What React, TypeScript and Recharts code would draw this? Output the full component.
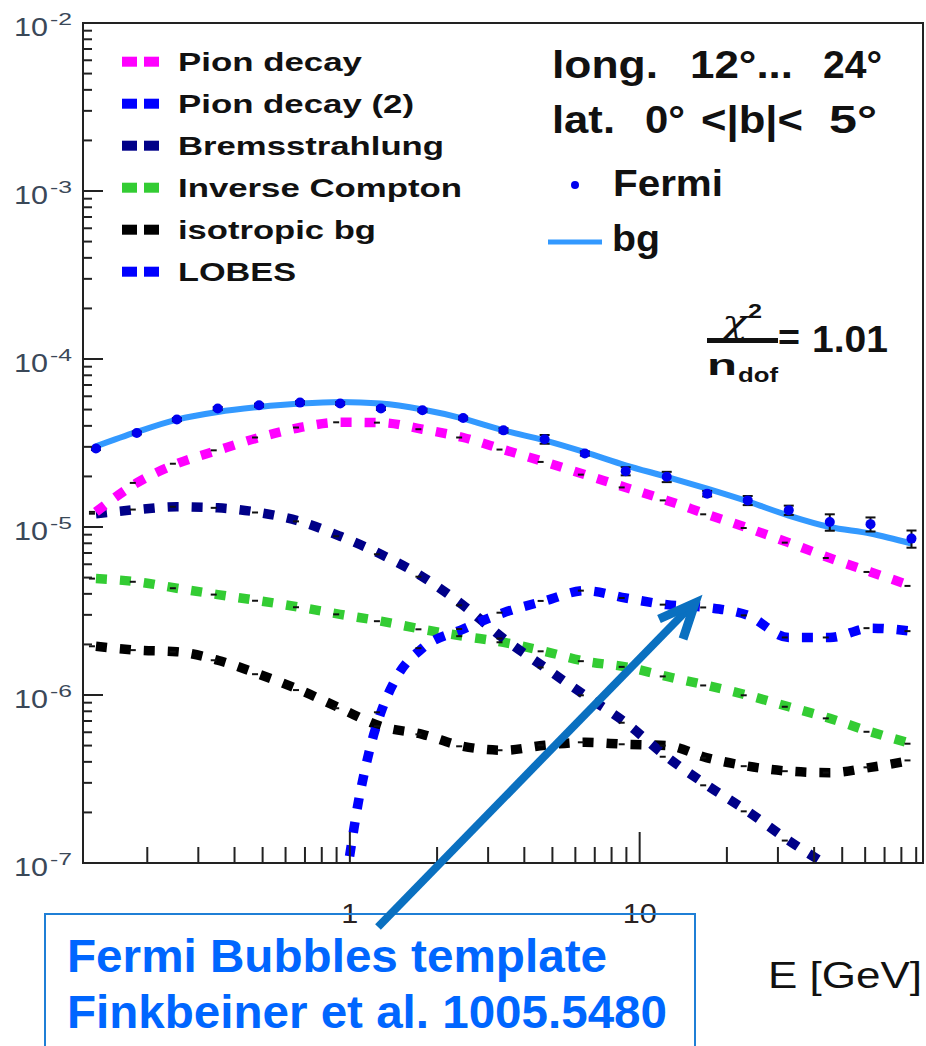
import React from 'react';
import { ComposedChart, Line, Scatter, ErrorBar, XAxis, YAxis, Legend } from 'recharts';

const W = 926;
const H = 1046;
const FONT = '"Liberation Sans", Arial, Helvetica, sans-serif';

// Fermi-LAT bins (GeV) and measured flux
const fermiE = [0.133, 0.184, 0.253, 0.35, 0.486, 0.673, 0.926, 1.28, 1.78, 2.46, 3.39, 4.7, 6.47, 8.95, 12.4, 17.1, 23.6, 32.7, 45.3, 62.6, 86.7];
const fermiFlux = [2.93e-5, 3.63e-5, 4.36e-5, 5.07e-5, 5.3e-5, 5.5e-5, 5.43e-5, 5.07e-5, 4.95e-5, 4.45e-5, 3.76e-5, 3.33e-5, 2.74e-5, 2.15e-5, 1.99e-5, 1.58e-5, 1.44e-5, 1.26e-5, 1.07e-5, 1.04e-5, 8.53e-6];
const fermiErr = [6e-7, 7e-7, 9e-7, 1e-6, 1.1e-6, 1.1e-6, 1.1e-6, 1e-6, 1e-6, 9e-7, 1.1e-6, 2e-6, 8e-7, 1.2e-6, 1.4e-6, 6e-7, 9e-7, 8e-7, 1.2e-6, 1e-6, 1e-6];

// model components, sampled at the Fermi bins
const bgFit = [3.02e-5, 3.68e-5, 4.36e-5, 4.84e-5, 5.18e-5, 5.43e-5, 5.55e-5, 5.43e-5, 5.0e-5, 4.42e-5, 3.76e-5, 3.28e-5, 2.79e-5, 2.33e-5, 1.99e-5, 1.69e-5, 1.42e-5, 1.17e-5, 1.0e-5, 9.14e-6, 7.96e-6];
const pionDecay = [1.23e-5, 1.83e-5, 2.38e-5, 2.86e-5, 3.41e-5, 3.91e-5, 4.2e-5, 4.18e-5, 3.82e-5, 3.41e-5, 2.89e-5, 2.44e-5, 2.05e-5, 1.72e-5, 1.44e-5, 1.19e-5, 9.86e-6, 8.07e-6, 6.54e-6, 5.4e-6, 4.46e-6];
const brems = [1.2e-5, 1.27e-5, 1.32e-5, 1.3e-5, 1.22e-5, 1.08e-5, 8.81e-6, 6.88e-6, 5.06e-6, 3.42e-6, 2.17e-6, 1.46e-6, 9.96e-7, 6.84e-7, 4.29e-7, 2.9e-7, 2.03e-7, 1.36e-7, 9.5e-8];
const inverseCompton = [4.93e-6, 4.72e-6, 4.32e-6, 3.96e-6, 3.64e-6, 3.33e-6, 3.02e-6, 2.75e-6, 2.46e-6, 2.24e-6, 2.06e-6, 1.82e-6, 1.59e-6, 1.47e-6, 1.29e-6, 1.14e-6, 9.96e-7, 8.51e-7, 7.26e-7, 6.04e-7, 5.13e-7];
const isotropic = [1.95e-6, 1.85e-6, 1.81e-6, 1.61e-6, 1.33e-6, 1.07e-6, 8.34e-7, 6.51e-7, 5.83e-7, 4.95e-7, 4.69e-7, 5.02e-7, 5.23e-7, 5.09e-7, 5.0e-7, 4.23e-7, 3.77e-7, 3.52e-7, 3.45e-7, 3.71e-7, 4.08e-7];

// LOBES template rises from below 1e-7 near 1 GeV
const lobesE = [0.969, 1.024, 1.065, 1.117, 1.181, 1.28, 1.464, 1.78, 2.46, 3.39, 4.7, 6.47, 8.95, 12.4, 17.1, 23.6, 32.7, 45.3, 62.6, 86.7];
const lobes = [7.9e-8, 1.46e-7, 2.21e-7, 3.33e-7, 5.02e-7, 7.89e-7, 1.31e-6, 1.9e-6, 2.47e-6, 3.09e-6, 3.63e-6, 4.18e-6, 3.78e-6, 3.45e-6, 3.32e-6, 2.98e-6, 2.2e-6, 2.2e-6, 2.5e-6, 2.4e-6];

const legendLabels = ['Pion decay', 'Pion decay (2)', 'Bremsstrahlung', 'Inverse Compton', 'isotropic bg', 'LOBES'];
const legendColors = ['#ff00ff', '#0000ff', '#000088', '#33cc33', '#000000', '#0000ff'];
const legendWidths = [184, 236, 266, 284, 198, 118];

const xTicks = [0.2, 0.3, 0.4, 0.5, 0.6, 0.7, 0.8, 0.9, 1, 2, 3, 4, 5, 6, 7, 8, 9, 10, 20, 30, 40, 50, 60, 70, 80, 90];
const xLabels = [1, 10];
const yDecades = [-7, -6, -5, -4, -3];
const yTicks = [...yDecades.flatMap((d) => [1, 2, 3, 4, 5, 6, 7, 8, 9].map((m) => m * Math.pow(10, d))), 1e-2];

const rows = (es: number[], vs: number[]) => vs.map((v, i) => ({ e: es[i], v }));
const fermiRows = fermiFlux.map((v, i) => ({ e: fermiE[i], v, err: fermiErr[i] }));

const DOT = '11 13';

function isDecade(v: number) {
  const lg = Math.log10(v);
  return Math.abs(lg - Math.round(lg)) < 1e-6;
}

function YTick(props: any) {
  const { x, y, payload } = props;
  const major = isDecade(payload.value);
  const exp = Math.round(Math.log10(payload.value));
  return (
    <g>
      <line x1={x} x2={x + (major ? 20 : 9)} y1={y} y2={y} stroke="#222" strokeWidth={2} />
      {major && (
        <g fontFamily={FONT} fill="#3a4858">
          <text x={x - 69} y={y + 13} fontSize={25} textLength={34} lengthAdjust="spacingAndGlyphs">10</text>
          <text x={x - 33} y={y + 2} fontSize={17} textLength={22} lengthAdjust="spacingAndGlyphs">{`-${-exp}`}</text>
        </g>
      )}
    </g>
  );
}

function XTick(props: any) {
  const { x, y, payload } = props;
  const major = isDecade(payload.value);
  const label = xLabels.includes(payload.value) ? String(payload.value) : null;
  return (
    <g>
      <line x1={x} x2={x} y1={y} y2={y - (major ? 31 : 16)} stroke="#222" strokeWidth={2} />
      {label && (
        <text x={x} y={y + 60} textAnchor="middle" fontSize={27} fontFamily={FONT} fill="#2a2222"
          textLength={label.length * 17} lengthAdjust="spacingAndGlyphs">{label}</text>
      )}
    </g>
  );
}

// small black bin marks that ROOT leaves on each model curve
const binMark = (props: any) => {
  const { cx, cy, index } = props;
  if (cx == null || cy == null) return <g key={`m${index}`} />;
  return <line key={`m${index}`} x1={cx - 7} x2={cx - 1} y1={cy} y2={cy} stroke="#111" strokeWidth={2} />;
};
const lobesMark = (props: any) => (fermiE.includes(props.payload?.e) ? binMark(props) : <g key={`m${props.index}`} />);

function ModelLegend() {
  return (
    <svg width={480} height={300} style={{ display: 'block' }}>
      {legendLabels.map((label, i) => {
        const cy = 61.7 + i * 42;
        return (
          <g key={label}>
            <rect x={122} y={cy - 5} width={15} height={10} fill={legendColors[i]} />
            <rect x={144} y={cy - 5} width={15} height={10} fill={legendColors[i]} />
            <text x={178} y={cy + 9} fontSize={25} fontWeight="bold" fontFamily={FONT} fill="#111"
              textLength={legendWidths[i]} lengthAdjust="spacingAndGlyphs">{label}</text>
          </g>
        );
      })}
    </svg>
  );
}

function T({ x, y, w, size, children, bold = true, fill = '#111', family = FONT, italic = false }: any) {
  return (
    <text x={x} y={y} fontSize={size} fontWeight={bold ? 'bold' : 'normal'} fontStyle={italic ? 'italic' : 'normal'}
      fontFamily={family} fill={fill} textLength={w} lengthAdjust="spacingAndGlyphs">{children}</text>
  );
}

export default function App() {
  return (
    <div style={{ position: 'absolute', left: 0, top: 0, width: W, height: H, background: '#fff' }}>
      <ComposedChart width={W} height={H} margin={{ top: 23, right: 3, bottom: 143, left: 0 }}>
        <XAxis dataKey="e" type="number" scale="log" domain={[0.12, 95]} allowDataOverflow ticks={xTicks}
          interval={0} tick={<XTick />} tickLine={false} axisLine={false} tickSize={0} tickMargin={0} height={40} />
        <YAxis dataKey="v" type="number" scale="log" domain={[1e-7, 1e-2]} allowDataOverflow ticks={yTicks}
          interval={0} tick={<YTick />} tickLine={false} axisLine={false} tickSize={0} tickMargin={0} width={83} />
        <Legend layout="vertical" align="center" verticalAlign="middle" content={<ModelLegend />}
          wrapperStyle={{ left: 0, top: 0, width: 480, height: 300, lineHeight: 0 }} />
        <Line data={rows(fermiE, isotropic)} dataKey="v" type="monotone" stroke="#000000" strokeWidth={9.5}
          strokeDasharray={DOT} dot={binMark} activeDot={false} isAnimationActive={false} />
        <Line data={rows(fermiE, inverseCompton)} dataKey="v" type="monotone" stroke="#33cc33" strokeWidth={9.5}
          strokeDasharray={DOT} dot={binMark} activeDot={false} isAnimationActive={false} />
        <Line data={rows(fermiE, brems)} dataKey="v" type="monotone" stroke="#000088" strokeWidth={9.5}
          strokeDasharray={DOT} dot={binMark} activeDot={false} isAnimationActive={false} />
        <Line data={rows(lobesE, lobes)} dataKey="v" type="monotone" stroke="#0000ff" strokeWidth={9.5}
          strokeDasharray={DOT} dot={lobesMark} activeDot={false} isAnimationActive={false} />
        <Line data={rows(fermiE, pionDecay)} dataKey="v" type="monotone" stroke="#ff00ff" strokeWidth={9.5}
          strokeDasharray={DOT} dot={binMark} activeDot={false} isAnimationActive={false} />
        <Line data={rows(fermiE, bgFit)} dataKey="v" type="monotone" stroke="#3399ff" strokeWidth={6}
          dot={false} activeDot={false} isAnimationActive={false} />
        <Scatter data={fermiRows} dataKey="v" isAnimationActive={false}
          shape={(p: any) => <circle cx={p.cx} cy={p.cy} r={5} fill="#0000ee" />}>
          <ErrorBar dataKey="err" direction="y" width={5} stroke="#111" strokeWidth={2} />
        </Scatter>
      </ComposedChart>

      <svg width={W} height={H} style={{ position: 'absolute', left: 0, top: 0, pointerEvents: 'none' }}>
        <rect x={83} y={23} width={840} height={840} fill="none" stroke="#222" strokeWidth={2} />

        <T x={552} y={78} w={106} size={38}>long.</T>
        <T x={690} y={78} w={103} size={38}>12°...</T>
        <T x={823} y={78} w={59} size={38}>24°</T>
        <T x={552} y={133} w={63} size={38}>lat.</T>
        <T x={645} y={133} w={40} size={38}>0°</T>
        <T x={701} y={133} w={102} size={38}>{'<|b|<'}</T>
        <T x={829} y={133} w={48} size={38}>5°</T>

        <circle cx={575} cy={185} r={4} fill="#0000ee" />
        <T x={613} y={196} w={110} size={36}>Fermi</T>
        <line x1={548} x2={602} y1={242} y2={242} stroke="#3399ff" strokeWidth={5} />
        <T x={612} y={251} w={48} size={36}>bg</T>

        <T x={722} y={333} w={26} size={32} bold={false} italic family='"DejaVu Serif", serif'>χ</T>
        <T x={748} y={318} w={14} size={20}>2</T>
        <rect x={707} y={338} width={71} height={5} fill="#111" />
        <T x={778} y={350} w={22} size={36}>=</T>
        <T x={812} y={352} w={76} size={37}>1.01</T>
        <T x={707} y={375} w={30} size={30}>n</T>
        <T x={738} y={382} w={40} size={20}>dof</T>

        <rect x={45} y={914} width={650} height={200} fill="none" stroke="#1f7fd6" strokeWidth={2} />
        <line x1={378} y1={927} x2={690} y2={607} stroke="#0a70c0" strokeWidth={8} />
        <polyline points="659,619 695,603 683,639" fill="none" stroke="#0a70c0" strokeWidth={9} strokeLinejoin="miter" />
        <T x={67} y={972} w={540} size={47} fill="#0066ff">Fermi Bubbles template</T>
        <T x={67} y={1028} w={600} size={47} fill="#0066ff">Finkbeiner et al. 1005.5480</T>

        <T x={768} y={988} w={154} size={36} bold={false}>E [GeV]</T>
      </svg>
    </div>
  );
}
